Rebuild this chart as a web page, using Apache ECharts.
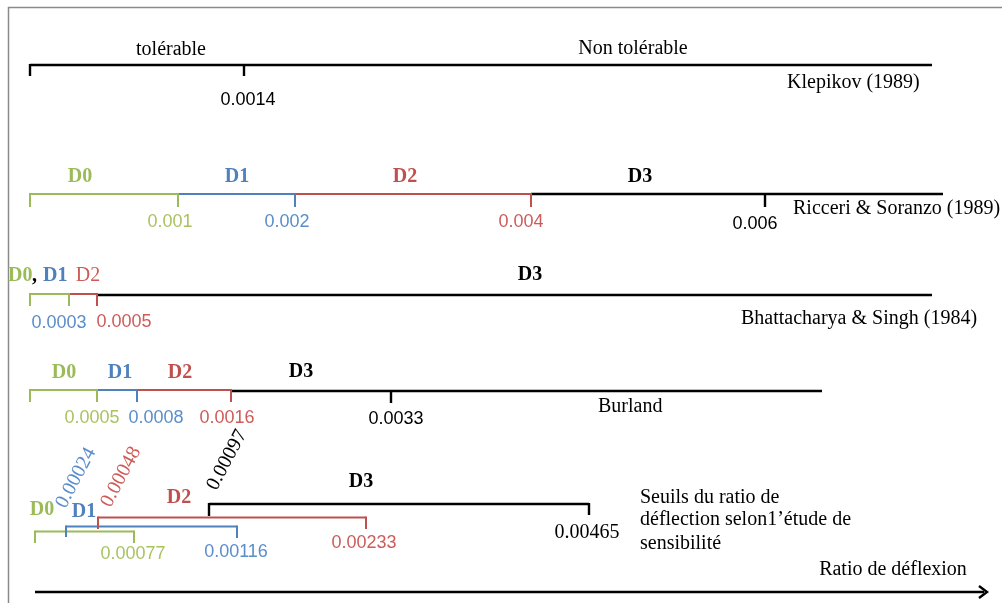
<!DOCTYPE html>
<html><head><meta charset="utf-8">
<script src="https://cdn.jsdelivr.net/npm/echarts@6/dist/echarts.min.js"></script>
<style>html,body{margin:0;padding:0;background:#fff}#c{width:1002px;height:603px}</style>
</head><body><div id="c"></div>
<script>
// ---- colour keys ----
const lineColors = {g:'#9bbb59', b:'#4f81bd', r:'#c0504d', k:'#000000'};
const numColors  = {g:'#a9c35f', b:'#5a8dcc', r:'#cd5c59', k:'#000000'};

// ---- diagram rows (schematic positions along the deflection-ratio axis) ----
const rowNames = ['Klepikov (1989)', 'Ricceri & Soranzo (1989)', 'Bhattacharya & Singh (1984)', 'Burland'];
const classNames = ['D0', 'D1', 'D2', 'D3'];

// Klepikov (1989)
const klepikovZones = ['tolérable', 'Non tolérable'];
const klepikovThresholds = ['0.0014'];
// Ricceri & Soranzo (1989)
const ricceriThresholds = ['0.001', '0.002', '0.004', '0.006'];
// Bhattacharya & Singh (1984)
const bhattThresholds = ['0.0003', '0.0005'];
// Burland
const burlandThresholds = ['0.0005', '0.0008', '0.0016', '0.0033'];
// Sensitivity study
const sensLower = ['0.00024', '0.00048', '0.00097'];
const sensUpper = ['0.00077', '0.00116', '0.00233', '0.00465'];
const sensTitle = ['Seuils du ratio de', 'déflection selon1’étude de', 'sensibilité'];
const axisTitle = 'Ratio de déflexion';

// segments: [x0, x1, y, colorKey]
const segments = [
  [30,932,65,'k'],
  [30,178,194,'g'],[178,295,194,'b'],[295,531,194,'r'],[531,943,194,'k'],
  [30,69,294,'g'],[69,97,294,'r'],[97,932,295,'k'],
  [30,97,390,'g'],[97,137,390,'b'],[137,231,390,'r'],[231,822,391,'k'],
  [209,589,504,'k'],[98,366,517.5,'r'],[66,237,526.5,'b'],[35,134,531.5,'g'],
  [35,984,592,'k']
];
// ticks: [x, yTop, yBottom, colorKey]
const ticks = [
  [30,65,76,'k'],[244,65,76,'k'],
  [30,194,207,'g'],[178,194,207,'g'],[295,194,207,'b'],[531,194,207,'r'],[765,194,207,'k'],
  [30,294,306,'g'],[69,294,306,'g'],[97,294,306,'r'],
  [30,390,402,'g'],[97,390,402,'g'],[137,390,402,'b'],[231,390,402,'r'],[391,391,403,'k'],
  [209,504,516,'k'],[589,504,515,'k'],
  [98,517.5,529,'r'],[366,517.5,529,'r'],
  [66,526.5,537,'b'],[237,526.5,538,'b'],
  [35,531.5,543,'g'],[134,531.5,543,'g']
];
const arrowTips = [[987,592]];

// labels: [x, y, text, colorKey, fontKind, align, rotationDeg]
const labels = [
  [171,50,klepikovZones[0],'k','serif','center',0],
  [633,49,klepikovZones[1],'k','serif','center',0],
  [248,100,klepikovThresholds[0],'k','num','center',0],
  [787,83,rowNames[0],'k','serif','left',0],

  [80,177,classNames[0],'g','bold','center',0],
  [237,177,classNames[1],'b','bold','center',0],
  [405,177,classNames[2],'r','bold','center',0],
  [640,177,classNames[3],'k','bold','center',0],
  [170,222,ricceriThresholds[0],'g','num','center',0],
  [287,222,ricceriThresholds[1],'b','num','center',0],
  [521,222,ricceriThresholds[2],'r','num','center',0],
  [755,224,ricceriThresholds[3],'k','num','center',0],
  [793,209,rowNames[1],'k','serif','left',0],

  [8,276,classNames[0],'g','bold','left',0],
  [32,276,',','k','bold','left',0],
  [43,276,classNames[1],'b','bold','left',0],
  [88,276,classNames[2],'r','serifc','center',0],
  [530,275,classNames[3],'k','bold','center',0],
  [59,323,bhattThresholds[0],'b','num','center',0],
  [124,322,bhattThresholds[1],'r','num','center',0],
  [741,319,rowNames[2],'k','serif','left',0],

  [64,373,classNames[0],'g','bold','center',0],
  [120,373,classNames[1],'b','bold','center',0],
  [180,373,classNames[2],'r','bold','center',0],
  [301,372,classNames[3],'k','bold','center',0],
  [92,418,burlandThresholds[0],'g','num','center',0],
  [156,418,burlandThresholds[1],'b','num','center',0],
  [227,418,burlandThresholds[2],'r','num','center',0],
  [396,419,burlandThresholds[3],'k','num','center',0],
  [598,407,rowNames[3],'k','serif','left',0],

  [42,510,classNames[0],'g','bold','center',0],
  [84,512,classNames[1],'b','bold','center',0],
  [179,498,classNames[2],'r','bold','center',0],
  [361,482,classNames[3],'k','bold','center',0],
  [76,478,sensLower[0],'b','serifc','center',62],
  [121,477,sensLower[1],'r','serifc','center',62],
  [227,460,sensLower[2],'k','serif','center',62],
  [133,554,sensUpper[0],'g','num','center',0],
  [236,552,sensUpper[1],'b','num','center',0],
  [364,543,sensUpper[2],'r','num','center',0],
  [587,533,sensUpper[3],'k','serif','center',0],
  [640,498,sensTitle[0],'k','serif','left',0],
  [640,520,sensTitle[1],'k','serif','left',0],
  [640,544,sensTitle[2],'k','serif','left',0],
  [893,570,axisTitle,'k','serif','center',0]
];

const fonts = {
  serif: '20px "Liberation Serif"',
  serifc: '20px "Liberation Serif"',
  bold: 'bold 20px "Liberation Serif"',
  num: '18px "Liberation Sans"'
};

const chart = echarts.init(document.getElementById('c'), null, {renderer:'canvas'});
chart.setOption({
  animation: false,
  backgroundColor: '#fff',
  grid: {left:0, right:0, top:0, bottom:0},
  xAxis: {type:'value', min:0, max:1002, show:false},
  yAxis: {type:'value', min:0, max:603, inverse:true, show:false},
  graphic: [{
    type:'rect', silent:true, z:0,
    shape:{x:8.5, y:7.5, width:1100, height:700},
    style:{fill:'none', stroke:'#8a8a8a', lineWidth:1.5}
  }],
  series: [
    {
      type:'custom', silent:true, z:3,
      data: segments.map(s => [s[0], s[2], s[1], s[2]]),
      encode:{x:[0,2], y:[1,3]},
      renderItem: function(params, api){
        const s = segments[params.dataIndex];
        const p0 = api.coord([s[0], s[2]]), p1 = api.coord([s[1], s[2]]);
        return {type:'line', shape:{x1:p0[0], y1:p0[1], x2:p1[0], y2:p1[1]},
          style:{stroke: lineColors[s[3]], lineWidth: s[3]==='k'?2.4:2}};
      }
    },
    {
      type:'custom', silent:true, z:4,
      data: ticks.map(t => [t[0], t[1], t[0], t[2]]),
      encode:{x:[0,2], y:[1,3]},
      renderItem: function(params, api){
        const t = ticks[params.dataIndex];
        const p0 = api.coord([t[0], t[1]]), p1 = api.coord([t[0], t[2]]);
        return {type:'line', shape:{x1:p0[0], y1:p0[1]-1, x2:p1[0], y2:p1[1]},
          style:{stroke: lineColors[t[3]], lineWidth: t[3]==='k'?2.4:2}};
      }
    },
    {
      type:'custom', silent:true, z:4,
      data: arrowTips,
      renderItem: function(params, api){
        const a = arrowTips[params.dataIndex];
        const p = api.coord(a);
        return {type:'polyline', shape:{points:[[p[0]-8,p[1]-6],[p[0],p[1]],[p[0]-8,p[1]+6]]},
          style:{stroke:'#000', fill:'none', lineWidth:2.4}};
      }
    },
    {
      type:'custom', silent:true, z:5,
      data: labels.map(l => [l[0], l[1]]),
      renderItem: function(params, api){
        const l = labels[params.dataIndex];
        const p = api.coord([l[0], l[1]]);
        const col = (l[4]==='num' || l[4]==='serifc') ? numColors[l[3]] : lineColors[l[3]];
        return {type:'text', x:p[0], y:p[1], rotation: l[6]*Math.PI/180,
          style:{text:l[2], fill: col, font: fonts[l[4]], align:l[5], verticalAlign:'middle'}};
      }
    }
  ]
});
</script>
</body></html>
